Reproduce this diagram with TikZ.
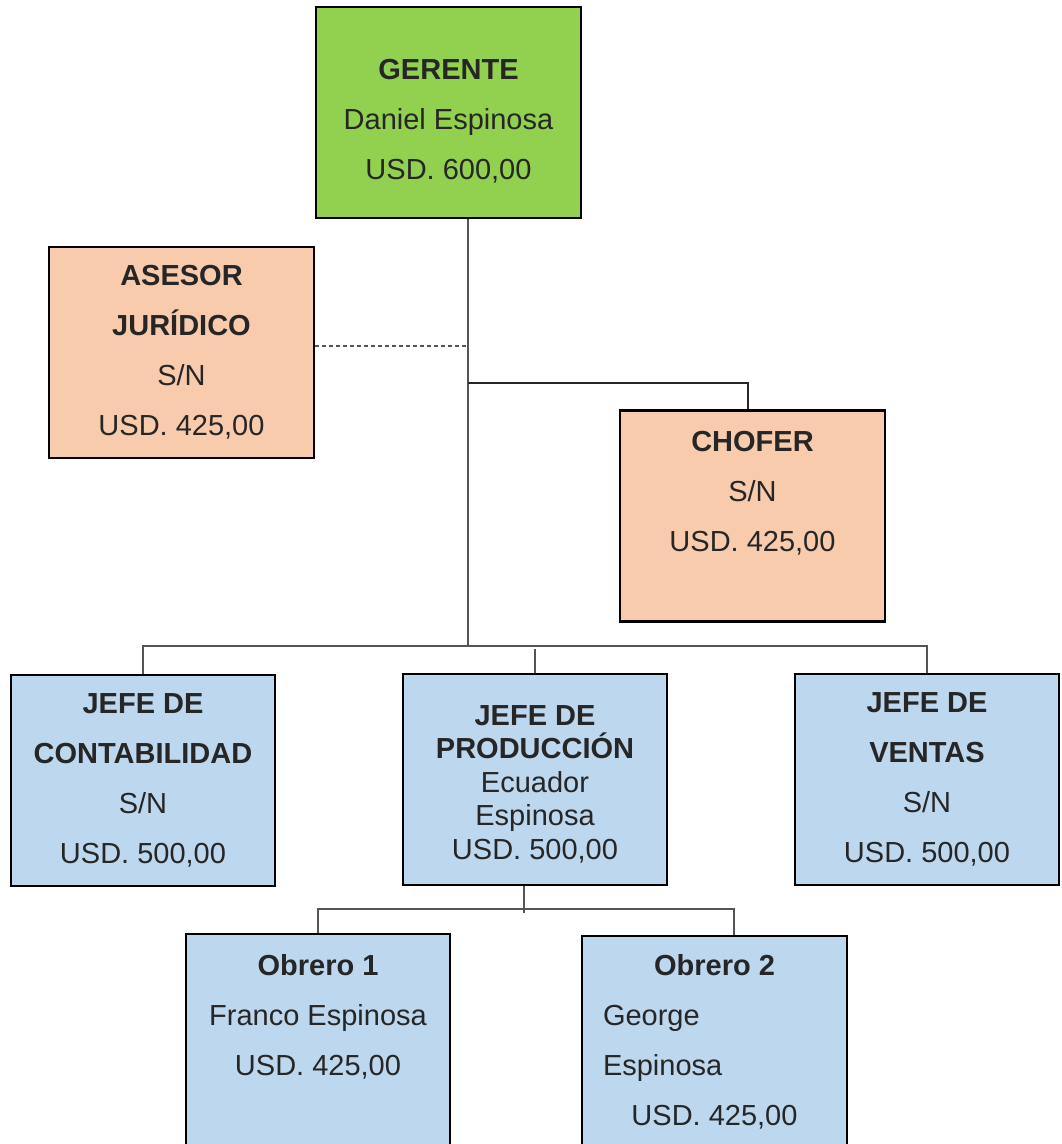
\documentclass[tikz,border=0pt]{standalone}
\usepackage{fontspec}
\setmainfont{Liberation Sans}
\begin{document}
\definecolor{boxgreen}{HTML}{92D050}
\definecolor{boxpeach}{HTML}{F8CBAD}
\definecolor{boxblue}{HTML}{BDD7EE}
\definecolor{inkgray}{HTML}{262626}
\definecolor{linegray}{HTML}{555555}
\begin{tikzpicture}[x=1pt,y=-1pt,
  unit/.style={draw=black, line width=2.8pt, minimum width=265pt, minimum height=211pt,
    inner sep=0pt, align=center, text=inkgray,
    font=\fontsize{29}{50}\selectfont},
  green unit/.style={unit, fill=boxgreen},
  peach unit/.style={unit, fill=boxpeach},
  blue unit/.style={unit, fill=boxblue},
  conn/.style={draw=linegray, line width=1.6pt},
  dashconn/.style={draw=linegray, line width=1.4pt, dash pattern=on 4pt off 3pt}]
\useasboundingbox (0,0) rectangle (1061,1144);
\clip (0,0) rectangle (1061,1144);

% organisation units
\node[green unit] (ger) at (448.5,112.5) {\rule{0pt}{37pt}\textbf{GERENTE}\\Daniel Espinosa\\USD. 600,00};
\node[peach unit] (ases) at (181.5,352.5) {\textbf{ASESOR}\\\textbf{JURÍDICO}\\S/N\\USD. 425,00};
\node[peach unit] (chof) at (752.5,516) {\textbf{CHOFER}\\S/N\\USD. 425,00\\\mbox{}};
\node[blue unit, minimum width=264pt] (cont) at (143,780.5) {\textbf{JEFE DE}\\\textbf{CONTABILIDAD}\\S/N\\USD. 500,00};
\node[blue unit, minimum width=264pt, font=\fontsize{29}{33.5}\selectfont] (prod) at (535,779.5)
  {\rule{0pt}{29pt}\textbf{JEFE DE}\\\textbf{PRODUCCIÓN}\\Ecuador\\Espinosa\\USD. 500,00};
\node[blue unit, minimum width=264pt] (vent) at (927,779.5) {\textbf{JEFE DE}\\\textbf{VENTAS}\\S/N\\USD. 500,00};
\node[blue unit, minimum width=264pt] (ob1) at (318,1039.5) {\textbf{Obrero 1}\\Franco Espinosa\\USD. 425,00\\\mbox{}};
\node[blue unit] (ob2) at (714.5,1041.5)
  {\textbf{Obrero 2}\\\makebox[223pt][l]{George}\\\makebox[223pt][l]{Espinosa}\\USD. 425,00};

% branching points
\coordinate (trunk) at (468,645);
\coordinate (dashjoin) at (468,346);
\coordinate (chofjoin) at (468,383);
\coordinate (chofdrop) at (748,383);
\coordinate (bus) at (535,646);
\coordinate (objoin) at (524,909);
\coordinate (ob2drop) at (734,909);

% connectors
\draw[conn] (ger.south -| trunk) -- (trunk);
\draw[dashconn] (ases.east |- dashjoin) -- (dashjoin);
\draw[conn, draw=black!85] (chofjoin) -- (chofdrop) -- (chofdrop |- chof.north);
\draw[conn] (cont.north) |- (bus) -| (vent.north);
\draw[conn] (prod.north) -- ([yshift=-3pt]bus);
\draw[conn] (prod.south -| objoin) -- ([yshift=-4pt]objoin);
\draw[conn] (ob1.north) |- (objoin) -- (ob2drop) -- (ob2drop |- ob2.north);
\end{tikzpicture}
\end{document}
